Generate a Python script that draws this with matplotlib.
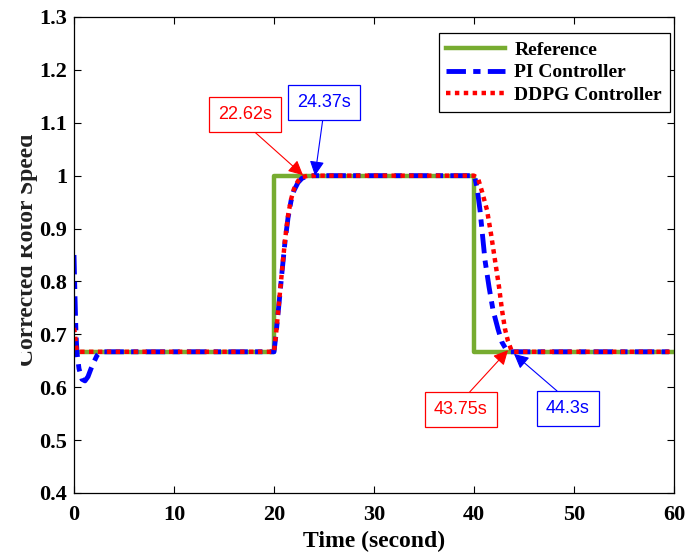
import numpy as np
import matplotlib.pyplot as plt
from matplotlib.ticker import FuncFormatter
from matplotlib.transforms import Bbox, TransformedBbox

# reference speed command
ref_t = [0, 20, 20, 40, 40, 60]
ref_v = [0.667, 0.667, 1.0, 1.0, 0.667, 0.667]

# PI controller response
pi_t = [0.0, 0.1, 0.2, 0.3, 0.5, 0.8, 1.1, 1.4, 1.7, 2.0, 2.3, 2.6, 3.0,
        20.0, 20.2, 20.5, 20.8, 21.1, 21.4, 21.7, 22.0, 22.4, 22.8, 23.3, 24.0,
        40.0, 40.1, 40.3, 40.6, 41.1, 41.5, 41.9, 42.4, 42.8, 43.2, 43.6, 60.0]
pi_v = [0.85, 0.77, 0.70, 0.665, 0.635, 0.615, 0.612, 0.62, 0.635, 0.648, 0.66, 0.666, 0.667,
        0.667, 0.70, 0.758, 0.818, 0.875, 0.92, 0.952, 0.972, 0.987, 0.995, 0.999, 1.0,
        1.0, 0.995, 0.978, 0.935, 0.84, 0.79, 0.746, 0.71, 0.685, 0.672, 0.667, 0.667]

# DDPG controller response
ddpg_t = [0.0, 0.1, 0.2, 0.3, 0.5, 20.0, 20.2, 20.5, 20.8, 21.1, 21.4, 21.7,
          22.0, 22.4, 22.8, 23.4, 40.0, 40.4, 40.8, 41.3, 41.7, 42.1, 42.5, 42.8,
          43.1, 43.4, 43.8, 60.0]
ddpg_v = [0.712, 0.70, 0.68, 0.668, 0.667, 0.667, 0.70, 0.76, 0.82, 0.878, 0.924, 0.955,
          0.975, 0.99, 0.997, 1.0, 1.0, 0.995, 0.97, 0.935, 0.89, 0.84, 0.79, 0.746,
          0.71, 0.687, 0.667, 0.667]

# annotations: label, colour, arrow tip (t, v), text centre (t, v), arrow start on box
notes = [
    ('22.62s', 'red', (22.9, 1.001), (17.1, 1.115), (0.5, 0)),
    ('24.37s', 'blue', (24.1, 1.0), (25.0, 1.139), (0.5, 0)),
    ('43.75s', 'red', (43.4, 0.670), (38.7, 0.557), (0.5, 1)),
    ('44.3s', 'blue', (44.0, 0.663), (49.4, 0.559), (0.5, 1)),
]

serif = 'Liberation Serif'

fig = plt.figure(figsize=(6.86, 5.54), dpi=100)
ax = fig.add_axes([74 / 686, 61 / 554, 600 / 686, 476 / 554])

ax.plot(ref_t, ref_v, color='#77AC30', lw=3.2, label='Reference')
ax.plot(pi_t, pi_v, color='blue', lw=3.5, ls=(0, (4, 1.5, 1.5, 1.5)), label='PI Controller')
ax.plot(ddpg_t, ddpg_v, color='red', lw=3.2, ls=(0, (1, 1)), label='DDPG Controller')

for txt, col, tip, pos, rp in notes:
    ax.annotate(txt, xy=tip, xytext=pos, ha='center', va='center',
                fontsize=13, family='Liberation Sans', color=col,
                bbox=dict(boxstyle='square,pad=0.5', fc='white', ec=col, lw=0.9),
                arrowprops=dict(arrowstyle='-|>', color=col, lw=0.8, relpos=rp,
                                mutation_scale=22, shrinkA=0, shrinkB=0))

ax.set_xlim(0, 60)
ax.set_ylim(0.4, 1.3)
ax.set_xticks(np.arange(0, 61, 10))
ax.set_yticks(np.arange(0.4, 1.31, 0.1))
ax.yaxis.set_major_formatter(FuncFormatter(lambda v, p: '%g' % round(v, 1)))
ax.tick_params(direction='in', top=True, right=True, length=5, width=0.8)
ax.tick_params(axis='x', pad=9)
ax.tick_params(axis='y', pad=5)
for lab in ax.get_xticklabels() + ax.get_yticklabels():
    lab.set_fontfamily(serif)
    lab.set_fontweight('bold')
    lab.set_fontsize(16)
for sp in ax.spines.values():
    sp.set_linewidth(0.9)

ax.set_xlabel('Time (second)', family=serif, fontweight='bold', fontsize=17, labelpad=4)

# y label is partly cut off at the left in the original
yl = fig.text(38 / 686, 1 - 250 / 554, 'Corrected Rotor Speed', rotation=90,
              ha='right', va='center', family=serif, fontweight='bold', fontsize=17,
              color='#222222')
yl.set_clip_box(TransformedBbox(Bbox([[21 / 686, 0], [1, 1]]), fig.transFigure))
yl.set_clip_on(True)

leg = ax.legend(loc='upper right', bbox_to_anchor=(0.993, 0.966), borderaxespad=0,
                fancybox=False, edgecolor='black', framealpha=1, handlelength=3.0,
                prop=dict(family=serif, weight='bold', size=14),
                borderpad=0.4, labelspacing=0.27, handletextpad=0.5)
leg.get_frame().set_linewidth(0.9)

fig.savefig('out.png', dpi=100)
